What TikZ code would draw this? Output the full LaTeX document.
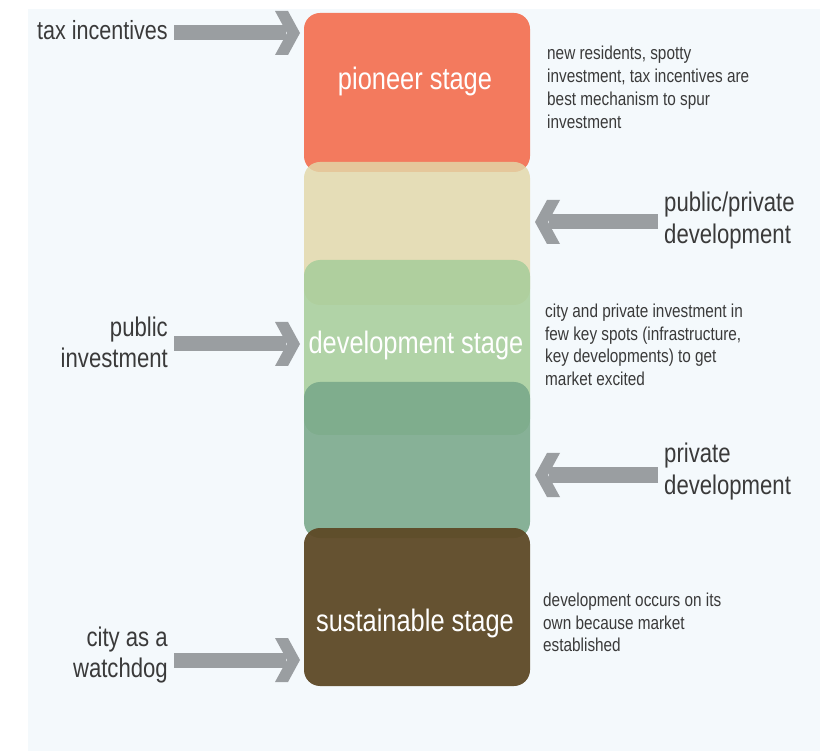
\documentclass[tikz,border=0pt]{standalone}
\usepackage{fontspec}
\setmainfont{Liberation Sans}[FakeStretch=0.82]
\definecolor{bgblue}{RGB}{244,249,252}
\definecolor{pioneerc}{RGB}{243,122,94}
\definecolor{beigec}{RGB}{226,216,169}
\definecolor{lgreenc}{RGB}{168,206,155}
\definecolor{mgreenc}{RGB}{121,168,138}
\definecolor{brownc}{RGB}{93,72,37}
\definecolor{arrowgray}{RGB}{154,158,161}
\definecolor{txtgray}{RGB}{58,58,58}
\begin{document}
\begin{tikzpicture}[x=1pt,y=-1pt,
  stagebox/.style={rounded corners=16pt, inner sep=0pt, minimum width=226pt},
  bigtext/.style={font=\fontsize{27}{31}\selectfont, text=txtgray, inner sep=0pt},
  smalltext/.style={font=\fontsize{18.7}{23}\selectfont, text=txtgray, inner sep=0pt, align=left},
  stagetext/.style={font=\fontsize{31}{34}\selectfont, text=white, inner sep=0pt},
  shaft/.style={line width=15pt, draw=arrowgray},
  chevron/.style={fill=arrowgray}]

\useasboundingbox (0,0) rectangle (820,751);
\fill[bgblue] (28,9) rectangle (820,751);

% stage boxes
\node[stagebox, fill=pioneerc, minimum height=159pt] (pioneer) at (417,92.5) {};
\node[stagebox, fill=beigec, fill opacity=0.82, minimum height=143pt] (beige) at (417,233.5) {};
\node[stagebox, fill=lgreenc, fill opacity=0.87, minimum height=175pt] (lgreen) at (417,347.5) {};
\node[stagebox, fill=mgreenc, fill opacity=0.88, minimum height=156pt] (mgreen) at (417,460) {};
\node[stagebox, fill=brownc, fill opacity=0.94, minimum height=158pt] (brown) at (417,607) {};

% stage labels
\node[stagetext, anchor=base] (pioneerlabel) at (415,90) {pioneer stage};
\node[stagetext, anchor=base] (devlabel) at (416,354) {development stage};
\node[stagetext, anchor=base] (suslabel) at (415,631) {sustainable stage};

% left labels
\node[bigtext, anchor=base east] (tax) at (168,40) {\fontsize{26.3}{31}\selectfont tax incentives};
\node[bigtext, anchor=base east] (pub1) at (168,337) {public};
\node[bigtext, anchor=base east] (pub2) at (168,368) {investment};
\node[bigtext, anchor=base east] (city1) at (168,646) {city as a};
\node[bigtext, anchor=base east] (city2) at (168,677) {watchdog};

% right labels
\node[bigtext, anchor=base west] (pp1) at (664,212) {public/private};
\node[bigtext, anchor=base west] (pp2) at (664,244) {development};
\node[bigtext, anchor=base west] (pr1) at (664,462) {private};
\node[bigtext, anchor=base west] (pr2) at (664,494) {development};

% descriptions
\node[smalltext, anchor=base west] (d1a) at (547,60) {new residents, spotty};
\node[smalltext, anchor=base west] (d1b) at (547,83) {investment, tax incentives are};
\node[smalltext, anchor=base west] (d1c) at (547,106) {best mechanism to spur};
\node[smalltext, anchor=base west] (d1d) at (547,129) {investment};
\node[smalltext, anchor=base west] (d2a) at (545,318) {city and private investment in};
\node[smalltext, anchor=base west] (d2b) at (545,340.5) {few key spots (infrastructure,};
\node[smalltext, anchor=base west] (d2c) at (545,363) {key developments) to get};
\node[smalltext, anchor=base west] (d2d) at (545,385.5) {market excited};
\node[smalltext, anchor=base west] (d3a) at (543,606) {development occurs on its};
\node[smalltext, anchor=base west] (d3b) at (543,629) {own because market};
\node[smalltext, anchor=base west] (d3c) at (543,651) {established};

% arrows pointing right (into the stages)
\coordinate (sA) at (174,33);  \coordinate (tA) at (300,33);
\coordinate (sB) at (174,344); \coordinate (tB) at (300,344);
\coordinate (sC) at (174,660); \coordinate (tC) at (300,660);
\foreach \s/\t in {sA/tA, sB/tB, sC/tC}{
  \draw[shaft] (\s) -- ([xshift=-14pt]\t);
  \fill[chevron, shift={(\t)}] (-25,-22) -- (-12,-22) -- (0,0) -- (-12,22) -- (-25,22) -- (-13,0) -- cycle;
}
% arrows pointing left
\coordinate (sD) at (658,222); \coordinate (tD) at (535,222);
\coordinate (sE) at (658,475); \coordinate (tE) at (535,475);
\foreach \s/\t in {sD/tD, sE/tE}{
  \draw[shaft] (\s) -- ([xshift=14pt]\t);
  \fill[chevron, shift={(\t)}, xscale=-1] (-25,-22) -- (-12,-22) -- (0,0) -- (-12,22) -- (-25,22) -- (-13,0) -- cycle;
}
\end{tikzpicture}
\end{document}
